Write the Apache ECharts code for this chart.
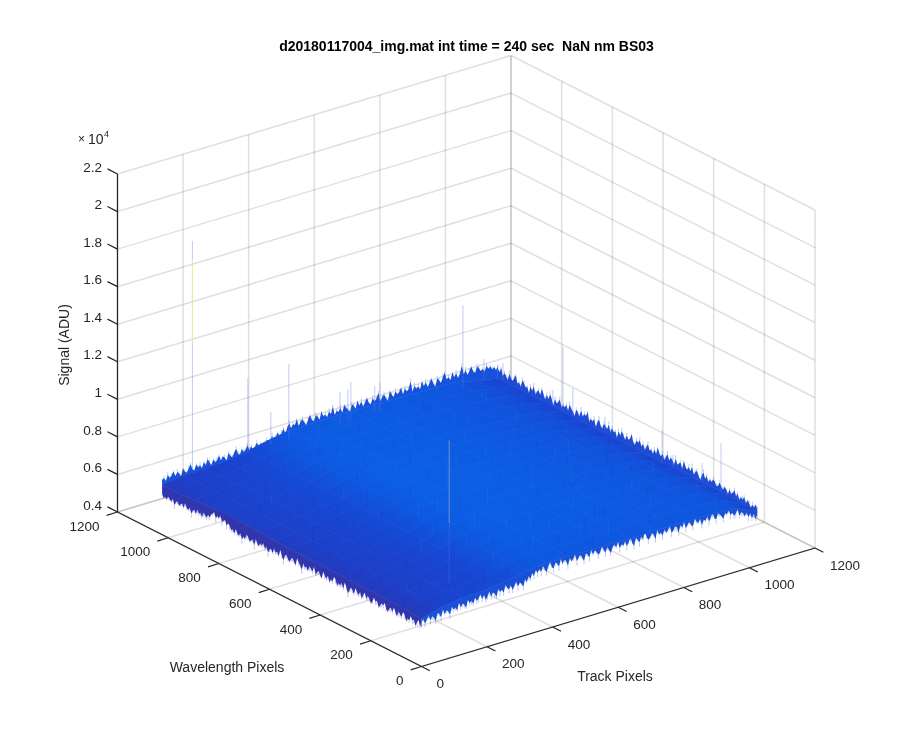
<!DOCTYPE html>
<html><head><meta charset="utf-8">
<style>html,body{margin:0;padding:0;background:#fff}#c{width:900px;height:750px}</style>
<script src="https://cdn.jsdelivr.net/npm/echarts@6/dist/echarts.min.js"></script>
</head><body><div id="c"></div>
<script>
// ---------- values ----------
const trackTicks = [0,200,400,600,800,1000,1200];
const wavelengthTicks = [0,200,400,600,800,1000,1200];
const signalTicks = [4000,6000,8000,10000,12000,14000,16000,18000,20000,22000];
const signalTickLabels = ['0.4','0.6','0.8','1','1.2','1.4','1.6','1.8','2','2.2'];
const titleText = 'd20180117004_img.mat int time = 240 sec  NaN nm BS03';

// mean signal (ADU): one row per wavelength pixel in surfaceNodes, one column per track pixel in surfaceNodes
const surfaceNodes = [0,64,128,192,256,320,384,448,512,576,640,704,768,832,896,960,1024];
const surfaceSignal = [
[6550,6850,7000,7050,7180,7400,7500,7500,7480,7500,7470,7490,7500,7480,7450,7380,6850],
[6600,6820,6950,7000,7150,7420,7520,7530,7500,7510,7490,7500,7510,7490,7460,7350,6900],
[6620,6800,6900,6960,7140,7440,7560,7570,7550,7560,7540,7530,7520,7490,7450,7330,6950],
[6650,6780,6880,6950,7140,7450,7600,7620,7600,7600,7590,7560,7530,7500,7440,7300,6950],
[6640,6790,6870,6960,7150,7470,7630,7650,7640,7620,7600,7570,7540,7490,7430,7290,6940],
[6660,6800,6890,6980,7170,7480,7650,7680,7660,7640,7610,7580,7540,7480,7420,7280,6950],
[6680,6810,6900,7000,7190,7490,7660,7690,7680,7650,7620,7570,7530,7480,7410,7270,6930],
[6670,6830,6920,7010,7200,7500,7670,7700,7690,7660,7620,7580,7520,7470,7400,7260,6920],
[6700,6840,6930,7020,7210,7500,7680,7710,7700,7670,7630,7570,7520,7460,7390,7250,6930],
[6720,6850,6950,7040,7220,7510,7680,7700,7690,7660,7620,7560,7510,7450,7380,7240,6920],
[6760,6870,6960,7050,7230,7510,7670,7700,7680,7650,7610,7560,7500,7450,7370,7230,6910],
[6800,6880,6970,7060,7230,7500,7660,7680,7670,7640,7600,7550,7500,7440,7360,7220,6920],
[6860,6900,6980,7060,7220,7490,7650,7660,7650,7630,7590,7540,7490,7430,7360,7220,6940],
[6780,6880,6970,7050,7200,7470,7630,7650,7630,7610,7580,7530,7480,7430,7370,7210,6950],
[6700,6850,6940,7020,7170,7430,7600,7620,7610,7590,7560,7520,7480,7440,7380,7200,6960],
[6660,6830,6900,6980,7130,7380,7550,7570,7580,7560,7540,7510,7480,7440,7390,7180,6960],
[6650,6800,6830,6880,7050,7300,7500,7530,7550,7540,7520,7500,7480,7450,7400,7150,6950]
];

// noisy tips along the four edges, in hundreds of ADU, read along each edge
const edgeBackLeft = [69,70,68,71,69,70,72,69,71,70,68,72,70,69,71,73,70,69,72,70,71,69,72,70,73,71,69,72,70,71,73,70,72,71,69,73,71,70,72,74,71,70,73,71,72,74,71,73,70,72,74,71,73,72,70,74,72,73,75,72,74,76,73,75,77,74,77,79,76,78,77,80,76,78,79,77,75,78,80,77,76,79,78,76,80,77,78,76,79,77,81,76,78,77,79,76,80,78,77,75,79,78,76,80,77,79,76,78,80,77,76,79,77,78,81,76,78,79,77,75,80,78,76,79,77,78,80,76,79,77,78,82,76,79,77,78,76,80,77,79,76,78,80,77,75,79,78,76,79,81,77,78,76,80,77,79,76,78,82,77,79,76,78,80,77,76,79,78,76,77,75,78,76,77,75,76,74,76];
const edgeBackRight = [75,73,76,72,74,73,71,75,73,72,74,76,72,73,71,75,74,72,73,70,74,72,75,71,73,74,72,76,73,71,74,72,75,73,70,74,72,73,75,71,73,72,74,71,75,73,72,70,74,73,71,75,72,74,73,76,71,73,72,74,70,73,75,72,71,74,73,72,75,71,74,72,73,70,74,72,75,73,71,74,72,73,76,72,71,74,73,75,72,74,71,73,75,72,73,71,74,72,76,73,72,74,71,73,75,72,74,73,71,75,72,73,74,71,76,73,72,74,72,75,71,73,74,72,70,73,75,72,74,71,73,72,74,73,71,72,74,72,71,73,72,70,73,71,72,74,71,73,70,72,71,73,70,72,71,69,71,70,72,70];
const edgeFrontLeft = [63,61,64,62,60,63,62,64,61,62,60,63,64,61,62,63,60,62,64,61,63,62,60,61,64,62,63,61,60,63,62,64,61,60,62,63,61,64,62,60,63,61,62,64,60,62,63,61,59,62,64,60,63,61,62,60,63,64,61,62,60,63,61,62,64,60,61,63,62,60,64,61,62,63,60,62,61,63,59,61,62,64,60,61,63,62,60,61,63,62,59,61,64,60,62,61,63,60,62,61,59,62,60,63,61,62,60,61,63,59,62,61,60,62,63,60,61,59,62,60,61,63,60,62,61,63,64,62,65,64,63,66,64,65,63,66,65,64,62,63,61,62,63,60,62,61,63,60,62,61,59,62,60,61,63,60,62,61,60,62,61,59,62,60,61,62,60,61,60,62];
const edgeFrontRight = [63,65,62,64,66,63,65,64,62,66,65,63,67,64,66,65,63,67,65,66,64,68,65,67,66,64,68,66,67,65,68,66,67,69,66,68,65,67,69,66,68,67,65,69,67,68,66,70,68,67,69,66,68,70,67,69,68,66,70,68,71,69,72,70,73,71,73,71,74,72,70,73,75,72,71,74,73,71,75,72,74,73,70,74,72,73,75,71,73,74,72,70,74,73,71,75,72,74,73,71,72,75,73,71,74,72,70,73,74,72,75,71,73,72,74,71,73,75,72,70,74,73,71,74,72,76,73,71,72,74,73,70,75,72,73,71,74,72,73,75,71,72,74,73,70,74,72,75,71,73,74,72,71,75,73,72,74,70,73,72,74,71,73,75,72,71,74,73,72,70,73,72,74,71,72,70,71,73,69,71,70,68,70,67,69,66,68,65,67];

// spikes standing out of the surface: [track pixel, wavelength pixel, top signal in ADU]
const spikes = [
[74,1000,19410],[243,1000,11230],[368,1000,11320],[313,1000,9050],[524,1000,9000],[548,1000,9040],
[557,1000,9360],[630,1000,8770],[646,1000,8850],[899,1000,11670],[963,1000,8460],[1000,973,8230],
[1000,776,8140],[1000,736,10710],[1000,697,8790],[1000,570,8120],[1000,345,8970],[1000,302,7940],
[1000,187,8300],[1000,112,9870],[134,64,14900]
];

// short streaks inside the surface: [track pixel, wavelength pixel, signal excursion in ADU]
const streaks = [
[12,88,-700],[37,412,-900],[55,233,-600],[61,716,-800],[84,540,-1000],[96,128,-500],[103,905,-700],[118,340,-900],[127,640,-600],[141,47,-800],
[152,812,-1100],[163,270,-600],[171,486,-800],[186,956,-500],[194,155,-900],[207,598,-700],[219,381,-1000],[226,733,-600],[238,64,-700],[249,870,-900],
[256,215,-600],[267,503,-800],[278,667,700],[286,32,-900],[297,342,600],[308,781,-700],[316,126,800],[327,988,-600],[339,451,900],[346,620,-500],
[358,197,700],[369,884,-800],[377,56,1000],[386,542,-600],[398,306,800],[407,751,-700],[416,143,600],[428,962,900],[437,415,-800],[445,677,700],
[452,18,-600],[466,269,1100],[474,834,-700],[483,523,800],[491,96,-500],[503,390,900],[512,708,-800],[524,174,600],[531,931,-600],[542,602,1000],
[551,37,-700],[563,466,700],[572,289,-500],[584,795,800],[593,122,-900],[604,645,600],[613,990,700],[625,350,-800],[634,82,900],[646,556,-600],
[653,246,700],[664,862,-500],[672,433,1200],[683,161,-700],[695,727,600],[704,8,800],[712,509,-900],[723,318,500],[735,943,-600],[744,614,800],
[752,73,-700],[763,395,900],[771,208,-500],[782,827,600],[794,574,-800],[803,137,700],[811,476,-600],[823,1005,500],[832,689,-700],[844,262,800],
[852,43,-600],[863,537,700],[871,371,-800],[883,768,500],[892,111,-700],[904,916,600],[912,448,-900],[923,226,500],[934,655,-600],[943,59,700],
[952,850,-800],[961,327,500],[973,518,-700],[981,186,600],[992,704,-600],[1003,402,-500],[1011,91,-700],[17,301,500],[44,846,-800],[72,152,600],
[108,468,-700],[133,765,500],[176,22,-900],[203,690,-600],[231,300,700],[262,946,-500],[291,590,-800],[322,240,900],[351,710,-600],[381,430,700],
[412,870,-700],[441,128,600],[470,580,-800],[501,220,1000],[535,800,-600],[566,105,700],[598,460,-700],[628,905,500],[659,170,-800],[690,640,700],
[718,365,-600],[748,840,500],[777,15,-700],[808,520,600],[838,195,-700],[868,690,500],[898,335,-600],[928,960,700],[958,430,-500],[988,75,600]
];

// ---------- view of the box: screen vector of one unit along each data axis ----------
const ORIGIN=[421.5,666.5], PER_T=[393.5/1200,-118.5/1200], PER_W=[-304/1200,-154.5/1200], PER_Z=-338/18000, Z0=4000;
const plane=(t,w,z)=>[ORIGIN[0]+t*PER_T[0]+w*PER_W[0], ORIGIN[1]+t*PER_T[1]+w*PER_W[1]+(z-Z0)*PER_Z];
const TOPT=1200,TOPW=1200,TOPZ=22000,TICK=33;
const INK='#262626', FONT='"Liberation Sans", Arial, sans-serif';

const colourStops=[[5800,[60,48,160]],[6300,[50,52,172]],[6600,[36,58,188]],[6900,[26,66,205]],[7200,[20,76,215]],[7600,[12,92,226]],[8200,[10,106,232]],[9500,[20,130,225]],[13000,[30,180,180]],[16000,[240,220,60]]];
function colourOf(z){
  if(z<=colourStops[0][0])return colourStops[0][1];
  for(let i=1;i<colourStops.length;i++){
    if(z<=colourStops[i][0]){const a=colourStops[i-1],b=colourStops[i],f=(z-a[0])/(b[0]-a[0]);
      return a[1].map((v,k)=>Math.round(v+(b[1][k]-v)*f));}
  }
  return colourStops[colourStops.length-1][1];
}
const rgba=(c,a)=>`rgba(${c[0]},${c[1]},${c[2]},${a})`;

// segment series: rows are [t1,w1,z1,t2,w2,z2,colour,width]
function segmentSeries(rows,z){
  return {type:'custom',coordinateSystem:'cartesian2d',silent:true,animation:false,z,clip:false,
    data:rows.map((r,i)=>[i,0]),
    renderItem(p,api){
      const r=rows[p.dataIndex];
      const a=api.coord(plane(r[0],r[1],r[2])), b=api.coord(plane(r[3],r[4],r[5]));
      return {type:'line',shape:{x1:a[0],y1:a[1],x2:b[0],y2:b[1]},style:{stroke:r[6],lineWidth:r[7]},silent:true};
    }};
}

// grid lines on the floor and the two back walls
const GRID='rgba(38,38,38,0.14)', GW=1.5, gridRows=[];
trackTicks.forEach(t=>{
  gridRows.push([t,0,Z0,t,TOPW,Z0,GRID,GW]);
  if(t>0) gridRows.push([t,TOPW,Z0,t,TOPW,TOPZ,GRID,GW]);
});
wavelengthTicks.forEach(w=>{
  gridRows.push([0,w,Z0,TOPT,w,Z0,GRID,GW]);
  gridRows.push([TOPT,w,Z0,TOPT,w,TOPZ,GRID,GW]);
});
signalTicks.forEach(z=>{
  gridRows.push([0,TOPW,z,TOPT,TOPW,z,GRID,GW]);
  gridRows.push([TOPT,0,z,TOPT,TOPW,z,GRID,GW]);
});

// axes and ticks
const axisRows=[
 [0,0,Z0,TOPT,0,Z0,INK,1.3],[0,0,Z0,0,TOPW,Z0,INK,1.3],[0,TOPW,Z0,0,TOPW,TOPZ,INK,1.3]
];
trackTicks.forEach(t=>axisRows.push([t,0,Z0,t,-TICK,Z0,INK,1.3]));
wavelengthTicks.forEach(w=>axisRows.push([0,w,Z0,-TICK,w,Z0,INK,1.3]));
signalTicks.forEach(z=>axisRows.push([0,TOPW,z,0,TOPW+TICK*1.2,z,INK,1.3]));

// surface cells, far ones first; colour runs smoothly across each cell along the track direction
const cells=[];
for(let r=surfaceNodes.length-2;r>=0;r--)for(let c=surfaceNodes.length-2;c>=0;c--)cells.push([r,c]);
const surfaceSeries={type:'custom',coordinateSystem:'cartesian2d',silent:true,animation:false,z:4,clip:false,
  data:cells.map((d,i)=>[i,0]),
  renderItem(p,api){
    const [r,c]=cells[p.dataIndex], N=surfaceNodes, S=surfaceSignal;
    const q=[[c,r],[c+1,r],[c+1,r+1],[c,r+1]];
    const pts=q.map(([ci,ri])=>api.coord(plane(N[ci],N[ri],S[ri][ci])));
    const zL=(S[r][c]+S[r+1][c])/2, zR=(S[r][c+1]+S[r+1][c+1])/2;
    const a=[(pts[0][0]+pts[3][0])/2,(pts[0][1]+pts[3][1])/2], b=[(pts[1][0]+pts[2][0])/2,(pts[1][1]+pts[2][1])/2];
    const g=new echarts.graphic.LinearGradient(a[0],a[1],b[0],b[1],[{offset:0,color:rgba(colourOf(zL),1)},{offset:1,color:rgba(colourOf(zR),1)}],true);
    return {type:'polygon',shape:{points:pts},style:{fill:g,stroke:g,lineWidth:0.8},silent:true};
  }};

// noisy edge bands: a jagged outline through the tips, closed along the surface edge
const nearest=i=>Math.max(0,Math.min(surfaceNodes.length-1,Math.round(i/64)));
const edgeAt={
  bl:(s)=>[s,1024],
  br:(s)=>[1024,1024-s],
  fl:(s)=>[0,s],
  fr:(s)=>[s,0]
};
const surfaceAt=(t,w)=>surfaceSignal[nearest(w)][nearest(t)];
function bandSeries(edges,z){
  return {type:'custom',coordinateSystem:'cartesian2d',silent:true,animation:false,z,clip:false,
    data:edges.map((d,i)=>[i,0]),
    renderItem(p,api){
      const [list,key,col]=edges[p.dataIndex];
      const pts=[];
      list.forEach((h,i)=>{const [t,w]=edgeAt[key](i/(list.length-1)*1024);pts.push(api.coord(plane(t,w,h*100)));});
      surfaceNodes.slice().reverse().forEach(s=>{const [t,w]=edgeAt[key](s);pts.push(api.coord(plane(t,w,surfaceAt(t,w))));});
      return {type:'polygon',shape:{points:pts},style:{fill:col},silent:true};
    }};
}
// pale hairs just past the tips
function haloRows(list,key,up,col){
  return list.map((h,i)=>{
    const [t,w]=edgeAt[key](i/(list.length-1)*1024);
    const extra=((h%4)+1)*40;
    return [t,w,h*100,t,w,h*100+(up?extra:-extra*1.3),col,0.9];
  });
}
const backHalo=haloRows(edgeBackLeft,'bl',true,'rgba(50,105,230,0.38)').concat(haloRows(edgeBackRight,'br',true,'rgba(50,90,225,0.38)'));
const frontHalo=haloRows(edgeFrontLeft,'fl',false,'rgba(70,70,190,0.38)').concat(haloRows(edgeFrontRight,'fr',false,'rgba(50,95,225,0.38)'));

// streaks
const streakRows=streaks.map(([t,w,d])=>{
  const b=surfaceAt(t,w);
  return [t,w,b-Math.abs(d)/2,t,w,b+Math.abs(d)/2,d>0?'rgba(60,150,235,0.16)':'rgba(35,40,140,0.11)',1];
});

// spikes
const spikeRows=[];
spikes.forEach(([t,w,z])=>{
  spikeRows.push([t,w,7300,t,w,z,'rgba(90,120,225,0.38)',1]);
  if(z>14500&&z<16000) spikeRows.push([t,w,10500,t,w,z,'rgba(180,190,190,0.5)',1]);
  if(z>=16000){spikeRows.push([t,w,14000,t,w,z-1000,'rgba(250,245,120,0.75)',1]);}
});

// tick labels
const labels=[];
trackTicks.forEach(t=>labels.push({at:[t,0,Z0],dx:15,dy:18,align:'left',text:String(t)}));
wavelengthTicks.forEach(w=>labels.push({at:[0,w,Z0],dx:-18,dy:15,align:'right',text:String(w)}));
signalTicks.forEach((z,i)=>labels.push({at:[0,TOPW,z],dx:-15.5,dy:-6,align:'right',text:signalTickLabels[i]}));
const labelSeries={type:'custom',coordinateSystem:'cartesian2d',silent:true,animation:false,z:9,clip:false,
  data:labels.map((d,i)=>[i,0]),
  renderItem(p,api){
    const l=labels[p.dataIndex], a=api.coord(plane(...l.at));
    return {type:'text',x:a[0]+l.dx,y:a[1]+l.dy,style:{text:l.text,fill:INK,font:'13.5px '+FONT,textAlign:l.align,textVerticalAlign:'middle'},silent:true};
  }};

const chart=echarts.init(document.getElementById('c'),null,{renderer:'canvas',width:900,height:750});
chart.setOption({
  animation:false,backgroundColor:'#fff',
  title:{text:titleText,left:461.5,top:34,textAlign:'center',textStyle:{fontFamily:FONT,fontSize:14,fontWeight:'bold',color:'#000',lineHeight:16}},
  grid:{left:0,right:0,top:0,bottom:0},
  xAxis:{type:'value',min:0,max:900,show:false},
  yAxis:{type:'value',min:0,max:750,inverse:true,show:false},
  series:[
    segmentSeries(gridRows,1),
    segmentSeries(backHalo,2),
    bandSeries([[edgeBackLeft,'bl','rgb(22,82,220)'],[edgeBackRight,'br','rgb(30,76,212)']],3),
    surfaceSeries,
    segmentSeries(frontHalo,5),
    bandSeries([[edgeFrontLeft,'fl','rgb(50,54,172)'],[edgeFrontRight,'fr','rgb(26,80,214)']],5),
    segmentSeries(streakRows,6),
    segmentSeries(spikeRows,7),
    segmentSeries(axisRows,8),
    labelSeries
  ],
  graphic:[
    {type:'text',x:65,y:345,rotation:Math.PI/2,silent:true,style:{text:'Signal (ADU)',fill:INK,font:'14px '+FONT,textAlign:'center',textVerticalAlign:'middle'}},
    {type:'text',x:227,y:668,silent:true,style:{text:'Wavelength Pixels',fill:INK,font:'14px '+FONT,textAlign:'center',textVerticalAlign:'middle'}},
    {type:'text',x:615,y:677,silent:true,style:{text:'Track Pixels',fill:INK,font:'14px '+FONT,textAlign:'center',textVerticalAlign:'middle'}},
    {type:'text',x:78,y:140,silent:true,style:{text:'×',fill:INK,font:'12px '+FONT,textAlign:'left',textVerticalAlign:'middle'}},
    {type:'text',x:88,y:140,silent:true,style:{text:'10',fill:INK,font:'14px '+FONT,textAlign:'left',textVerticalAlign:'middle'}},
    {type:'text',x:104,y:135,silent:true,style:{text:'4',fill:INK,font:'9px '+FONT,textAlign:'left',textVerticalAlign:'middle'}}
  ]
});
</script></body></html>
